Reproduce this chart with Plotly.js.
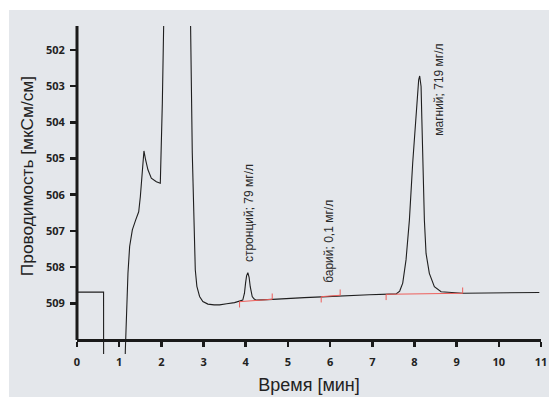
<!DOCTYPE html>
<html>
<head>
<meta charset="utf-8">
<script src="https://cdn.plot.ly/plotly-3.0.1.min.js"></script>
<style>
html,body{margin:0;padding:0;background:#ffffff;width:549px;height:397px;overflow:hidden;}
#chart{position:absolute;left:9px;top:10px;width:540px;height:387px;}
</style>
</head>
<body>
<div id="chart"></div>
<script>
// Chromatogram: time [min] vs conductivity reading (axis labels 502..509, increasing downward)
const timeMin = [0, 0.63, 0.631, 1.135, 1.146, 1.170, 1.208, 1.248, 1.312, 1.390, 1.463, 1.502, 1.549, 1.587,
  1.627, 1.682, 1.762, 1.881, 1.975, 1.999, 2.023, 2.054, 2.08, 2.66, 2.693, 2.733, 2.764, 2.804, 2.842,
  2.906, 2.984, 3.103, 3.25, 3.38, 3.55, 3.735, 3.93, 3.97, 3.996, 4.02, 4.05, 4.08, 4.107, 4.13, 4.154,
  4.20, 4.25, 4.64, 5.0, 5.39, 5.8, 6.30, 6.93, 7.40, 7.565, 7.65, 7.722, 7.80, 7.88, 7.958, 8.039, 8.10,
  8.124, 8.145, 8.157, 8.175, 8.195, 8.235, 8.275, 8.353, 8.472, 8.631, 9.143, 10.0, 10.96];
const conductivity = [508.69, 508.69, 511.0, 511.0, 510.29, 509.46, 508.17, 507.43, 506.97, 506.70, 506.47, 506.05, 505.31, 504.79,
  505.04, 505.31, 505.54, 505.64, 505.68, 504.85, 503.47, 501.36, 500.0, 500.0, 501.36, 504.85, 506.70, 508.07, 508.53,
  508.81, 508.95, 509.02, 509.04, 509.04, 509.01, 508.98, 508.91, 508.72, 508.44, 508.24, 508.15, 508.28, 508.54, 508.72, 508.81,
  508.88, 508.91, 508.89, 508.86, 508.84, 508.82, 508.79, 508.76, 508.745, 508.74, 508.66, 508.44, 507.80, 506.70, 505.13, 503.66, 502.83,
  502.72, 502.85, 503.01, 503.90, 505.04, 506.70, 507.62, 508.17, 508.54, 508.68, 508.72, 508.71, 508.70];

// Integration baselines (start / end of each peak)
const baseStartX = [3.854, 5.789, 7.328];
const baseStartY = [508.953, 508.815, 508.749];
const baseEndX   = [4.628, 6.239, 9.143];
const baseEndY   = [508.887, 508.776, 508.721];

// Peak labels
const peakLabels = ['стронций; 79 мг/л', 'барий; 0,1 мг/л', 'магний; 719 мг/л'];
const labelX = [4.074, 5.969, 8.574];
const labelY = [506.51, 507.28, 503.11];

const xTicks = [0,1,2,3,4,5,6,7,8,9,10,11];
const yTicks = [502,503,504,505,506,507,508,509];

// build baseline trace with small integration markers
const markLen = 0.16;
const redX = [], redY = [];
for (let i = 0; i < baseStartX.length; i++) {
  redX.push(baseStartX[i], baseStartX[i], baseEndX[i], baseEndX[i], null);
  redY.push(baseStartY[i] + markLen, baseStartY[i], baseEndY[i], baseEndY[i] - markLen, null);
}

const axisColor = '#1a1a1a';
const yBottom = 510.398, yTop = 501.34;
const xAxisPos = 0.0427;

const traces = [
  {x: timeMin, y: conductivity, type: 'scatter', mode: 'lines',
   line: {color: '#1f1f1f', width: 1.1}, hoverinfo: 'skip', showlegend: false},
  {x: redX, y: redY, type: 'scatter', mode: 'lines',
   line: {color: '#ee5f5b', width: 1}, hoverinfo: 'skip', showlegend: false, connectgaps: false}
];

const annotations = peakLabels.map((t, i) => ({
  x: labelX[i], y: labelY[i], xref: 'x', yref: 'y', text: t, showarrow: false,
  textangle: -90, xanchor: 'center', yanchor: 'middle',
  font: {family: 'Liberation Sans, Arial, sans-serif', size: 12, color: '#2a2a2a'}
}));
annotations.push({
  x: -0.109, y: 0.5435, xref: 'paper', yref: 'paper', text: 'Проводимость [мкСм/см]',
  showarrow: false, textangle: -90, xanchor: 'center', yanchor: 'middle',
  font: {family: 'Liberation Sans, Arial, sans-serif', size: 17.3, color: '#222222'}
});

const layout = {
  width: 540, height: 387,
  margin: {l: 68, r: 8, t: 16, b: 43},
  paper_bgcolor: '#e4e7eb', plot_bgcolor: 'rgba(0,0,0,0)',
  showlegend: false,
  xaxis: {
    range: [0, 11], tickvals: xTicks, ticktext: xTicks.map(String),
    anchor: 'free', position: xAxisPos,
    showline: true, linecolor: axisColor, linewidth: 3,
    ticks: 'outside', ticklen: 5, tickwidth: 2.5, tickcolor: axisColor,
    ticklabelstandoff: 6,
    showgrid: false, zeroline: false,
    tickfont: {family: 'Open Sans, sans-serif', size: 11, color: '#222222', weight: 'bold'},
    title: {text: 'Время [мин]', standoff: 9.5,
            font: {family: 'Liberation Sans, Arial, sans-serif', size: 18, color: '#222222'}}
  },
  yaxis: {
    range: [yBottom, yTop], tickvals: yTicks, ticktext: yTicks.map(String),
    showline: false,
    ticks: 'outside', ticklen: 6, tickwidth: 2.5, tickcolor: axisColor,
    ticklabelstandoff: 3,
    showgrid: false, zeroline: false,
    tickfont: {family: 'Open Sans, sans-serif', size: 11, color: '#222222', weight: 'bold'}
  },
  shapes: [
    {type: 'line', xref: 'paper', yref: 'paper', x0: 0, x1: 0, y0: xAxisPos, y1: 1,
     line: {color: axisColor, width: 3}}
  ],
  annotations: annotations
};

Plotly.newPlot('chart', traces, layout, {staticPlot: true, displayModeBar: false});
</script>
</body>
</html>
